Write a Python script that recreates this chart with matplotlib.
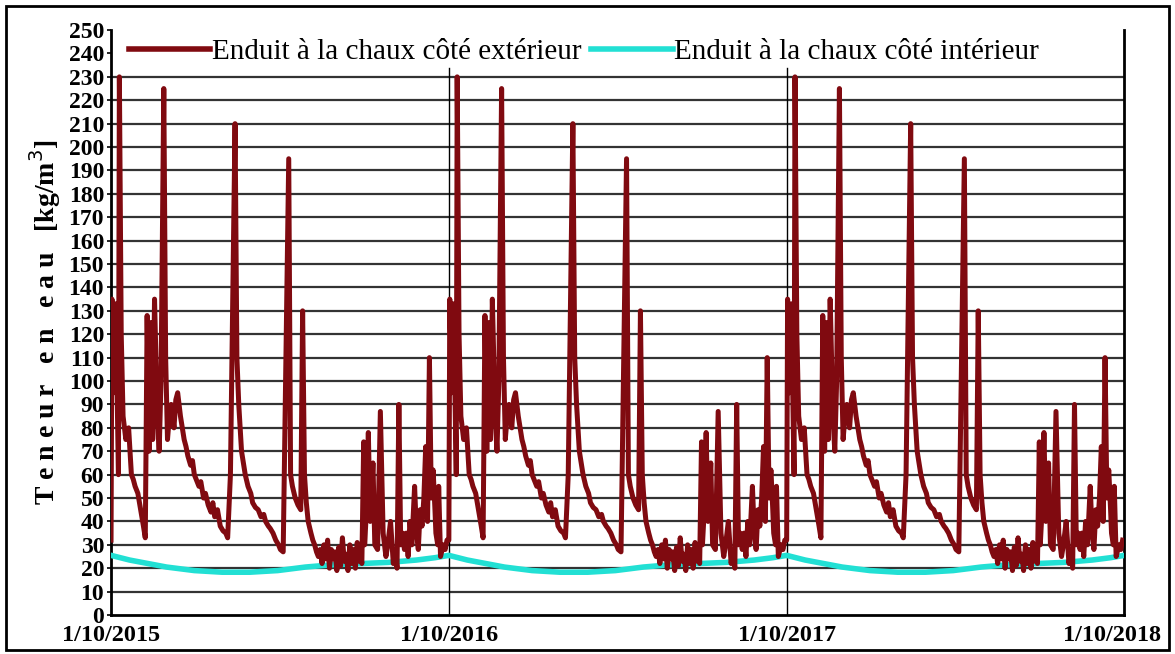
import numpy as np
import matplotlib.pyplot as plt
from matplotlib.patches import Rectangle
from matplotlib.transforms import ScaledTranslation

# one hydrological year (days since 1 October), the pattern repeats each year
jours_ext = [0, 1, 3, 5, 8, 9, 11, 13, 16, 19, 22, 24, 26, 29, 32, 35, 37,
             39, 41, 43, 45, 47, 50, 52, 54, 57, 59, 61, 63, 65, 68, 70, 72,
             75, 77, 79, 81, 83, 86, 88, 90, 92, 95, 97, 100, 102, 105, 108,
             110, 112, 115, 118, 121, 124, 126, 129, 134, 136, 138, 141, 143,
             145, 148, 151, 153, 156, 159, 162, 165, 167, 170, 172, 175, 178,
             181, 183, 186, 190, 192, 194, 196, 199, 202, 205, 207, 209, 211,
             213, 216, 218, 220, 222, 224, 226, 228, 230, 232, 234, 236, 238,
             240, 242, 244, 246, 248, 250, 252, 254, 256, 258, 260, 262, 264,
             266, 268, 269, 271, 273, 274, 276, 278, 280, 283, 285, 288, 291,
             294, 297, 299, 302, 305, 307, 309, 311, 313, 315, 317, 319, 321,
             323, 325, 328, 330, 332, 334, 336, 338, 340, 342, 344, 346, 348,
             350, 351, 353, 354, 356, 359, 361, 363]
teneur_ext = [32, 135, 95, 133, 60, 230, 120, 85, 75, 80, 60, 58, 55, 52, 45,
              38, 33, 128, 70, 125, 75, 135, 85, 70, 100, 225, 110, 75, 85, 90,
              80, 92, 95, 85, 80, 75, 72, 68, 64, 66, 60, 58, 55, 57, 50, 52,
              47, 44, 48, 42, 45, 38, 36, 35, 33, 60, 210, 110, 90, 70, 65, 60,
              55, 52, 48, 46, 45, 42, 43, 40, 38, 37, 35, 32, 30, 28, 27, 140,
              195, 60, 55, 50, 47, 45, 130, 60, 48, 40, 35, 32, 30, 27, 25, 28,
              22, 30, 24, 32, 20, 28, 24, 27, 19, 29, 21, 33, 23, 26, 19, 30,
              22, 28, 20, 31, 23, 27, 22, 74, 30, 45, 78, 40, 65, 30, 28, 87,
              35, 25, 30, 40, 22, 28, 20, 90, 30, 35, 28, 35, 25, 40, 30, 55,
              35, 28, 45, 38, 50, 72, 40, 110, 50, 62, 45, 35, 30, 55, 25, 30,
              28, 32]
jours_int = [0, 20, 40, 60, 90, 120, 150, 180, 210, 240, 270, 300, 330, 350, 365]
teneur_int = [25.5, 23.5, 22, 20.5, 19, 18.3, 18.3, 19, 20.5, 21.5, 22, 22.5,
              23.5, 24.5, 25.5]

annees = 3
duree_an = 365
etiquettes_x = ['1/10/2015', '1/10/2016', '1/10/2017', '1/10/2018']

x_ext = np.concatenate([np.array(jours_ext) + k * duree_an for k in range(annees)])
y_ext = np.tile(teneur_ext, annees)
x_int = np.concatenate([np.array(jours_int) + k * duree_an for k in range(annees)])
y_int = np.tile(teneur_int, annees)

plt.rcParams['font.family'] = ['Liberation Serif', 'DejaVu Serif']

fig = plt.figure(figsize=(11.75, 6.54), dpi=100)
ax = fig.add_axes([0.0945, 0.0596, 0.8625, 0.8944])

rouge = '#800a10'
cyan = '#22e0d4'
ax.plot(x_int, y_int, color=cyan, lw=4, zorder=3,
        label='Enduit à la chaux côté intérieur')
ax.plot(x_ext, y_ext, color=rouge, lw=3.6, zorder=4,
        label='Enduit à la chaux côté extérieur')

for k in range(1, annees):
    ax.axvline(k * duree_an, ymax=234 / 250, color='black', lw=1.0, zorder=2)

ax.set_xlim(0, annees * duree_an)
ax.set_ylim(0, 250)
ax.set_yticks(range(0, 251, 10))
ax.set_xticks([k * duree_an for k in range(annees + 1)])
ax.set_xticklabels(etiquettes_x)
for yv in range(10, 240, 10):
    ax.axhline(yv, color='#333333', lw=1.6, zorder=1)

ax.tick_params(axis='y', labelsize=17, length=3, width=1.2, pad=2)
ax.tick_params(axis='x', labelsize=17.5, length=0, pad=7)
for lab in ax.get_yticklabels() + ax.get_xticklabels():
    lab.set_fontweight('bold')
# last date label sits a bit left of its tick, inside the frame
dernier = ax.get_xticklabels()[-1]
dernier.set_transform(dernier.get_transform() +
                      ScaledTranslation(-0.12, 0, fig.dpi_scale_trans))
ax.set_ylabel('T e n e u r   e n   e a u   [kg/m$^3$]', fontsize=20,
              fontweight='bold', labelpad=4)

ax.spines['top'].set_visible(False)
for s in ['left', 'bottom', 'right']:
    ax.spines[s].set_linewidth(2)

h, l = ax.get_legend_handles_labels()
leg = ax.legend(h[::-1], l[::-1], loc='upper left', bbox_to_anchor=(0.0, 1.015),
                ncol=2, fontsize=21, frameon=False, handlelength=2.8,
                handletextpad=0.05, columnspacing=0.35, borderaxespad=0.2)
for line in leg.get_lines():
    line.set_linewidth(4)

fig.patches.append(Rectangle((0.005, 0.006), 0.99, 0.985, transform=fig.transFigure,
                             fill=False, edgecolor='black', lw=2))

fig.savefig('out.png', dpi=100)
